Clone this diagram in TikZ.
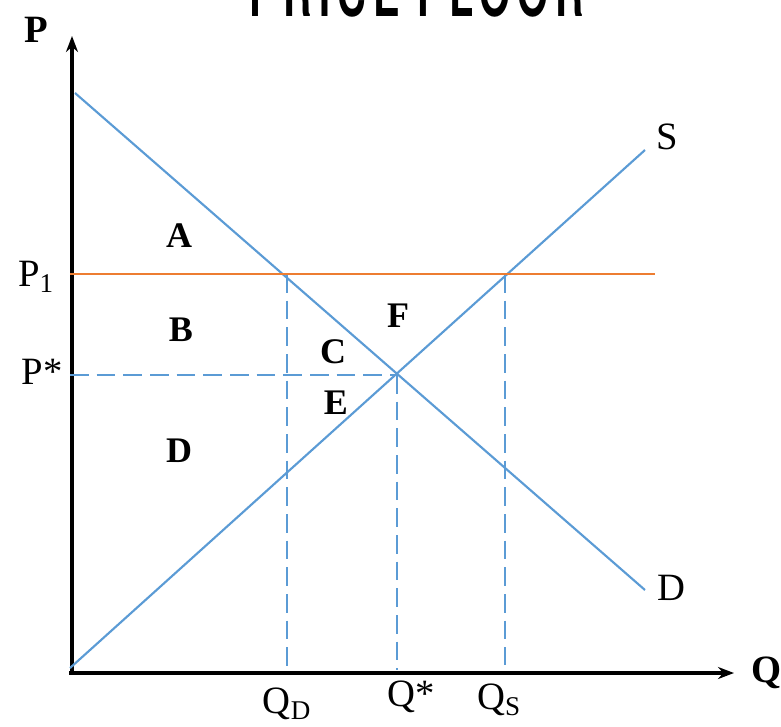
\documentclass[tikz,border=0pt]{standalone}
\usepackage{fontspec}
\setmainfont{Liberation Serif}
\newfontfamily\titlefont[LetterSpace=18]{TeX Gyre Heros}
\usetikzlibrary{arrows.meta}
\definecolor{lblue}{HTML}{5B9BD5}
\definecolor{lorange}{HTML}{ED7D31}
\begin{document}
\begin{tikzpicture}[x=0.75pt,y=-0.75pt,
  axis/.style={line width=2.5pt,-{Stealth[length=12pt,width=9pt]}},
  curve/.style={lblue,line width=1.6pt},
  guide/.style={lblue,line width=1.6pt,dash pattern=on 14pt off 6pt},
  floor/.style={lorange,line width=1.7pt},
  area/.style={font=\fontsize{27}{29}\selectfont\bfseries,inner sep=0},
  lab/.style={font=\fontsize{29}{31}\selectfont,inner sep=0}]
\useasboundingbox (0,0) rectangle (781,726);
% title (cut off at the top)
\node[anchor=base,inner sep=0,xscale=0.62] (title) at (417,16) {\titlefont\bfseries\fontsize{48}{50}\selectfont PRICE FLOOR};
% axes
\coordinate (O) at (71,673);
\coordinate (Ptop) at (72,36);
\coordinate (Qend) at (734,673);
\draw[axis] (72,674) -- (Ptop);
\draw[axis] (69,673) -- (Qend);
% demand and supply
\coordinate (D0) at (75,93);
\coordinate (D1) at (645,590);
\coordinate (S0) at (70,668);
\coordinate (S1) at (645,150);
\draw[curve] (D0) -- (D1);
\draw[curve] (S0) -- (S1);
% equilibrium and floor points
\coordinate (E) at (397,375);
\coordinate (P1L) at (70,274);
\coordinate (P1R) at (655,274);
\coordinate (QDt) at (287,274);
\coordinate (QSt) at (505,274);
\coordinate (PsL) at (70,375);
\coordinate (QDb) at (287,670);
\coordinate (Qsb) at (397,670);
\coordinate (QSb) at (505,665);
\draw[guide] (PsL) -- (E);
\draw[guide] (QDt) -- (QDb);
\draw[guide] (E) -- (Qsb);
\draw[guide] (QSt) -- (QSb);
\draw[floor] (P1L) -- (P1R);
% axis labels
\node[lab,font=\fontsize{29}{31}\selectfont\bfseries] (Plab) at (36,30) {P};
\node[lab,font=\fontsize{29}{31}\selectfont\bfseries] (Qlab) at (767,673) {Q};
\node[lab] (P1lab) at (36,277) {P$_{\mathrm{1}}$};
\node[lab] (Pslab) at (42,372) {P*};
\node[lab] (QDlab) at (287,704) {Q$_{\mathrm{D}}$};
\node[lab] (Qslab) at (411,697) {Q*};
\node[lab] (QSlab) at (499,700) {Q$_{\mathrm{S}}$};
\node[lab] (Slab) at (667,137) {S};
\node[lab] (Dlab) at (671,588) {D};
% areas
\node[area] (A) at (179,236) {A};
\node[area] (B) at (181,330) {B};
\node[area] (C) at (333,352) {C};
\node[area] (F) at (398,316) {F};
\node[area] (Ea) at (336,403) {E};
\node[area] (Da) at (179,451) {D};
\end{tikzpicture}
\end{document}
